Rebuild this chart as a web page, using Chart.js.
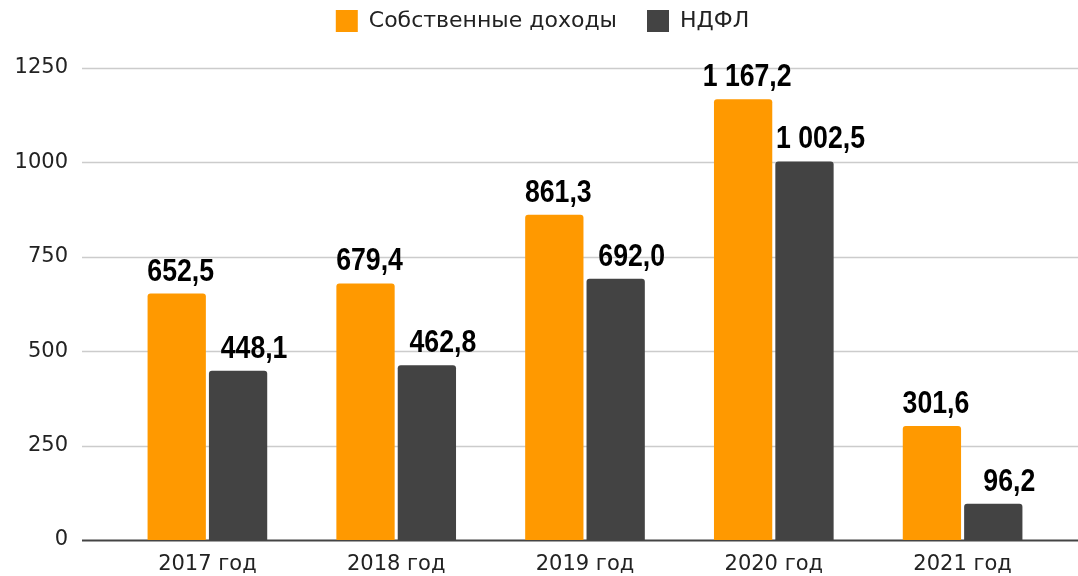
<!DOCTYPE html>
<html>
<head>
<meta charset="utf-8">
<script src="https://cdn.jsdelivr.net/npm/chart.js@4"></script>
<style>
  html, body { margin: 0; padding: 0; background: #fff; }
  #wrap { width: 1078px; height: 576px; }
</style>
</head>
<body>
<div id="wrap"><canvas id="bar-chart"></canvas></div>
<script>
var categories = ["2017 год", "2018 год", "2019 год", "2020 год", "2021 год"];
var sobstvennye = [652.5, 679.4, 861.3, 1167.2, 301.6];
var ndfl = [448.1, 462.8, 692.0, 1002.5, 96.2];
var yTicks = [0, 250, 500, 750, 1000, 1250];

function formatRu(v){
  var parts = v.toFixed(1).split(".");
  var intPart = parts[0].replace(/\B(?=(\d{3})+(?!\d))/g, " ");
  return intPart + "," + parts[1];
}

// legend takes a fixed band at the top, centred a little to the right
var legendBand = {
  id: "legendBand",
  beforeInit: function(chart){
    var lg = chart.legend;
    if (!lg) return;
    var origFit = lg.fit;
    lg.fit = function(){
      origFit.call(this);
      this.height = 88;
    };
  },
  afterLayout: function(chart){
    if (chart.legend) chart.legend.left += 28;
  }
};

// gridlines go wider than the bar area
var wideGrid = {
  id: "wideGrid",
  beforeDatasetsDraw: function(chart){
    var ctx = chart.ctx;
    var y = chart.scales.y;
    ctx.save();
    for (var i = 0; i < yTicks.length; i++){
      var py = Math.round(y.getPixelForValue(yTicks[i])) + 0.5;
      ctx.beginPath();
      if (yTicks[i] === 0){
        ctx.strokeStyle = "#444";
        ctx.lineWidth = 2;
      } else {
        ctx.strokeStyle = "#cccccc";
        ctx.lineWidth = 1.5;
      }
      ctx.moveTo(82, py);
      ctx.lineTo(1078, py);
      ctx.stroke();
    }
    ctx.restore();
  }
};

// labels sit a bit right of the bar centre, more so on the dark bars
var labelShift = [4, 16];

var valueLabels = {
  id: "valueLabels",
  afterDatasetsDraw: function(chart){
    var ctx = chart.ctx;
    ctx.save();
    ctx.font = "bold 31px 'Liberation Sans', Arial, sans-serif";
    ctx.fillStyle = "#000";
    ctx.textAlign = "center";
    ctx.textBaseline = "alphabetic";
    chart.data.datasets.forEach(function(ds, di){
      chart.getDatasetMeta(di).data.forEach(function(bar, i){
        ctx.save();
        ctx.translate(bar.x + labelShift[di], bar.y - 13);
        ctx.scale(0.86, 1);
        ctx.fillText(formatRu(ds.data[i]), 0, 0);
        ctx.restore();
      });
    });
    ctx.restore();
  }
};

var chart = new Chart(document.getElementById("bar-chart"), {
  type: "bar",
  data: {
    labels: categories,
    datasets: [
      {
        label: "Собственные доходы",
        data: sobstvennye,
        backgroundColor: "#ff9900",
        borderRadius: { topLeft: 3, topRight: 3 },
        borderSkipped: "bottom",
        categoryPercentage: 0.65,
        barPercentage: 0.95
      },
      {
        label: "НДФЛ",
        data: ndfl,
        backgroundColor: "#434343",
        borderRadius: { topLeft: 3, topRight: 3 },
        borderSkipped: "bottom",
        categoryPercentage: 0.65,
        barPercentage: 0.95
      }
    ]
  },
  options: {
    responsive: true,
    maintainAspectRatio: false,
    animation: false,
    layout: { padding: { top: -20, right: 21, bottom: 0, left: 0 } },
    plugins: {
      legend: {
        position: "top",
        labels: {
          boxWidth: 22,
          boxHeight: 22,
          padding: 30,
          color: "#222",
          font: { family: "'DejaVu Sans', sans-serif", size: 22 }
        }
      },
      tooltip: { enabled: false }
    },
    scales: {
      x: {
        afterFit: function(scale){ scale.height = 36; },
        grid: { display: false, drawTicks: false },
        border: { display: false },
        ticks: {
          color: "#222",
          padding: 12,
          font: { family: "'DejaVu Sans', sans-serif", size: 21 }
        }
      },
      y: {
        min: 0,
        max: 1250,
        afterFit: function(scale){
          scale.width = 113;
          scale.paddingTop = 0;
          scale.paddingBottom = 12;
        },
        grid: { display: false, drawTicks: false },
        border: { display: false },
        ticks: {
          stepSize: 250,
          color: "#222",
          padding: 45,
          font: { family: "'DejaVu Sans', sans-serif", size: 21 },
          callback: function(v){ return String(v); }
        }
      }
    }
  },
  plugins: [legendBand, wideGrid, valueLabels]
});
</script>
</body>
</html>
